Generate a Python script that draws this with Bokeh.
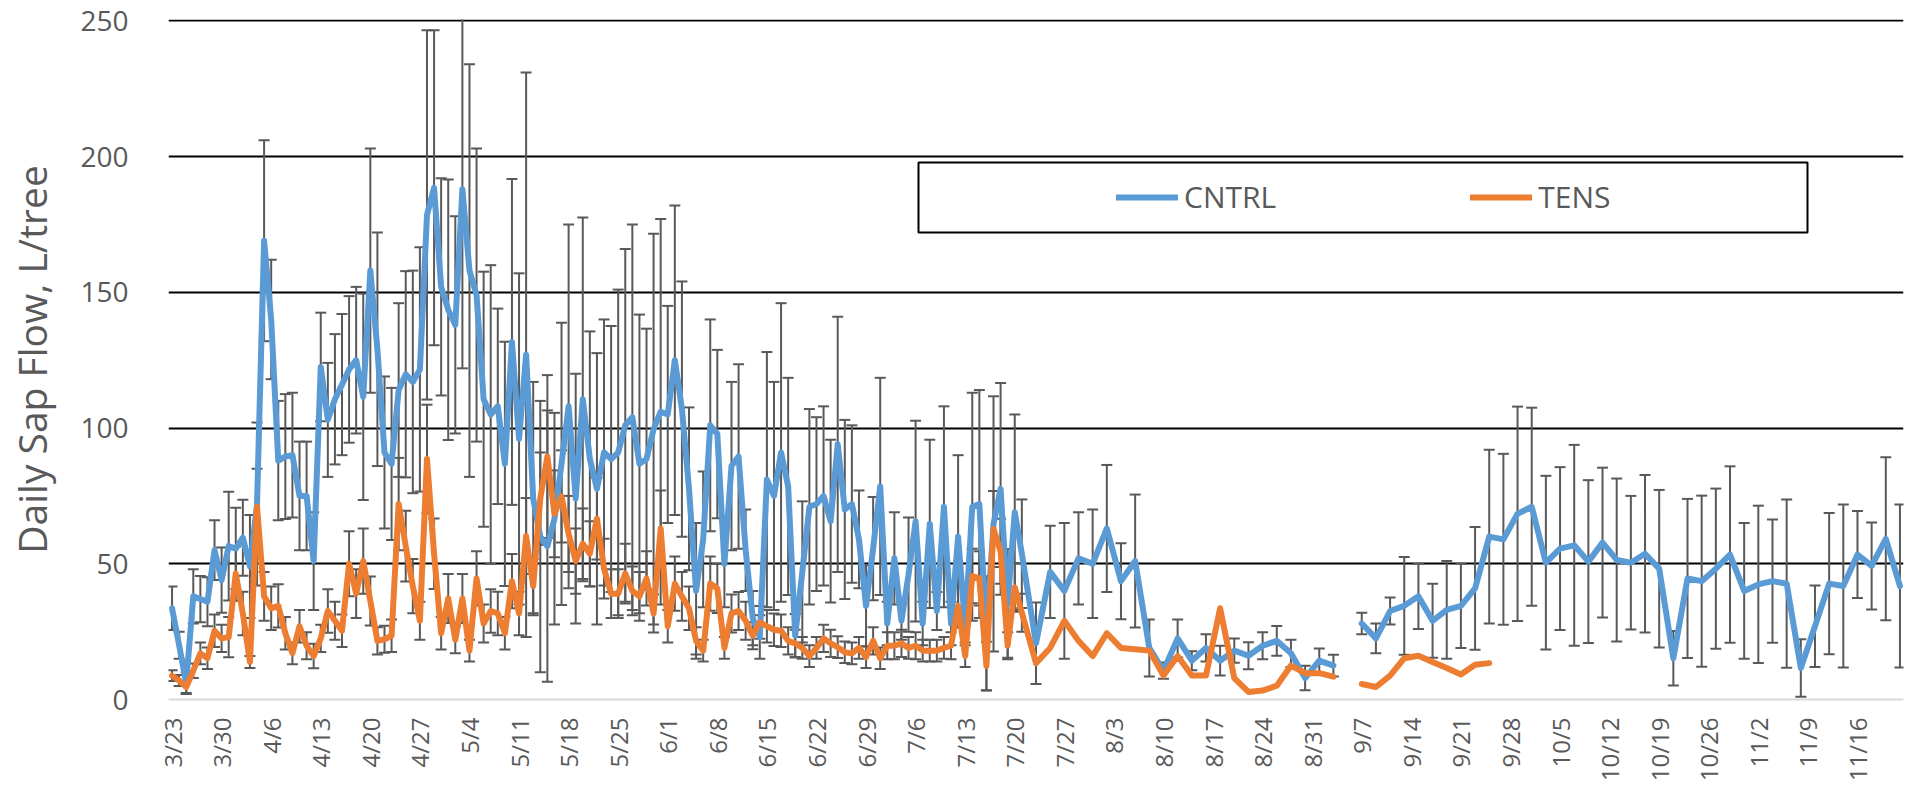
import numpy as np
import pandas as pd
from bokeh.plotting import figure
from bokeh.models import (ColumnDataSource, Range1d, FixedTicker, Legend,
                          LegendItem, BoxAnnotation)
from bokeh.embed import file_html
from bokeh.resources import INLINE

nan = float("nan")
YEAR = 2015

# ---- daily readings, 3/23 .. 7/21 ----
CNTRL_DAILY = [
    33.6, 20, 6, 38, 37, 36, 55, 44, 56.5, 55.6,
    59.6, 49, 72, 169, 140, 88, 89.5, 90, 75, 75,
    51, 122.5, 103, 110.6, 116, 121.6, 125, 111.5, 158, 129,
    91, 86.8, 114, 119.8, 117, 121.6, 178.5, 188.5, 152, 143.6,
    138, 188, 158, 149, 110.6, 105, 108, 86.8, 131.7, 96,
    127, 74, 60, 56.5, 66.6, 86.8, 108, 74, 110.6, 88.6,
    77.6, 91, 88.6, 91, 101, 104, 86.8, 88.6, 99.6, 106,
    105, 125, 107, 77.6, 40, 59, 101, 97.8, 50, 86,
    89.5, 55, 30, 23, 81, 75, 91, 78.5, 23.5, 47,
    71, 72, 75, 65.7, 94, 70, 72, 59, 34.5, 55.6,
    78.5, 28, 52, 29, 46, 65.7, 28, 64.7, 32.6, 71,
    28, 60, 27, 71, 72, 24.4, 64.7, 77.6, 35.4, 69,
    53.7]
TENS_DAILY = [
    8.8, 7, 4.6, 10.6, 17, 15.2, 25.3, 22.5, 23, 46.4,
    31.7, 13.8, 71, 38, 33.6, 34.5, 24.4, 17, 27, 19.8,
    16, 22.5, 32.6, 29, 25.3, 50, 39, 51, 36.3, 21.6,
    22.2, 23.5, 72, 56.5, 41.8, 29, 88.6, 53.7, 24.4, 37.2,
    22, 37.2, 18, 44.6, 28, 32.6, 31.7, 24.4, 43.6, 31.7,
    60.2, 41.8, 74, 89.5, 68.4, 74.8, 61, 51, 57.4, 53.7,
    66.6, 48.2, 39, 39, 46.4, 40, 38, 44.6, 31.7, 63,
    27, 42.7, 38, 33.6, 21.6, 18, 42.7, 40.9, 19, 31.7,
    32.6, 29, 23.5, 28.4, 27, 25.7, 25.3, 21.6, 20.7, 19,
    16, 19, 22.5, 20.7, 19.3, 17.4, 17, 19, 15.6, 21.6,
    15.2, 19.8, 19.8, 20.7, 19, 19.8, 18, 18, 18, 19,
    19.8, 34.5, 16, 45.5, 44.6, 12.3, 62.8, 54.6, 19.8, 41.3,
    32]
CNTRL_ERR_DAILY = [
    8, 5, 4, 10, 8.5, 9, 11, 12, 20, 15,
    14, 19, 30, 37, 22, 22, 23, 23, 20, 20,
    18, 20, 21, 24, 26, 27, 27, 38, 45, 43,
    28, 28, 32, 38, 41, 45, 68, 58, 40, 48,
    40, 66, 76, 54, 47, 55, 36, 45, 60, 61,
    104, 43, 50, 50, 39, 52, 67, 46, 67, 47,
    50, 49, 49, 60, 65, 71, 55, 48, 72, 71,
    40, 57, 47, 30, 25, 25, 39, 31, 16, 31,
    34, 15, 10, 8, 47, 42, 55, 40, 8, 26,
    36, 32, 33, 30, 47, 33, 29, 18, 15, 19,
    40, 8, 17, 7, 21, 37, 8, 31, 7, 37,
    8, 30, 6, 42, 42, 21, 47, 39, 20, 36,
    20]
TENS_ERR_DAILY = [
    2, 2, 2.2, 2.7, 4, 4, 6, 5, 7.4, 10,
    8, 2.2, 14, 9, 8, 8, 6, 4, 6, 5,
    4.5, 5, 8, 7, 6, 12, 9, 12, 9, 5,
    5, 6, 17, 13, 10, 7, 20, 13, 6, 9,
    5, 9, 4, 10, 7, 8, 8, 6, 10, 8,
    14, 10, 17, 30, 16, 17, 14, 12, 13, 12,
    15, 11, 9, 9, 11, 9, 9, 10, 7, 14,
    6, 10, 9, 8, 5, 4, 10, 9, 4, 7,
    7, 7, 5, 6, 6, 6, 6, 5, 5, 4,
    4, 4, 5, 5, 4, 4, 4, 4, 4, 5,
    4, 5, 5, 5, 4, 5, 4, 4, 4, 4,
    5, 8, 4, 10, 10, 9, 14, 12, 5, 9,
    7]

# ---- readings every second day, 7/23 .. 11/22 ----
CNTRL_2DAY = [
    20.7, 47, 40, 52, 50, 63, 43.6, 51, 19, 10.6,
    22.5, 14.3, 19, 14.3, 18, 16.1, 19.8, 21.6, 17, 7.9,
    14.3, 12.5, nan, 28, 22.5, 32.6, 34.5, 38, 29, 33,
    34.5, 40.9, 60, 59, 68.4, 71, 50.4, 55.6, 56.8, 50.8,
    57.8, 51.4, 50.4, 53.7, 48.2, 15.2, 44.6, 43.6, 48.2, 53.4,
    40, 42.4, 43.6, 42.7, 11.6, 27, 42.7, 41.8, 53.4, 49.2,
    59.2, 41.8]
TENS_2DAY = [
    13.4, 19, 29, 21.6, 16, 24.4, 19, 18.5, 18, 8.8,
    16, 8.8, 8.8, 33.6, 7.9, 2.8, 3.3, 5.1, 12.5, 9.7,
    9.7, 8.4, nan, 5.7, 4.6, 8.8, 15.2, 16.1, 13.8, 11.6,
    9.2, 12.8, 13.4, nan, nan, nan, nan, nan, nan, nan,
    nan, nan, nan, nan, nan, nan, nan, nan, nan, nan,
    nan, nan, nan, nan, nan, nan, nan, nan, nan, nan,
    nan, nan]
CNTRL_ERR_2DAY = [
    15, 17, 25, 17, 20, 23.4, 14, 24.5, 10.5, 3,
    7, 3.5, 5, 5.5, 4.5, 5, 5, 5.5, 5, 4.5,
    4.5, 4, nan, 4, 5.5, 5, 18, 12, 13.6, 18,
    15.5, 22.6, 32, 31.5, 39.5, 36.5, 32, 30, 37, 30,
    27.6, 30, 24.6, 29, 29, 10, 29.3, 31.5, 29.5, 32.5,
    25, 29, 22.7, 31, 10.6, 15, 26, 30, 16, 16,
    30, 30]

TICK_LABELS = ["3/23", "3/30", "4/6", "4/13", "4/20", "4/27", "5/4", "5/11",
               "5/18", "5/25", "6/1", "6/8", "6/15", "6/22", "6/29", "7/6",
               "7/13", "7/20", "7/27", "8/3", "8/10", "8/17", "8/24", "8/31",
               "9/7", "9/14", "9/21", "9/28", "10/5", "10/12", "10/19",
               "10/26", "11/2", "11/9", "11/16"]
Y_TICKS = [0, 50, 100, 150, 200, 250]
SERIES = ["CNTRL", "TENS"]
COLORS = ["#5B9BD5", "#ED7D31"]

# ---- build dates ----
d_daily = pd.date_range(f"{YEAR}-03-23", periods=len(CNTRL_DAILY), freq="D")
d_2day = pd.date_range(f"{YEAR}-07-23", periods=len(CNTRL_2DAY), freq="2D")
dates = d_daily.append(d_2day)

cntrl = np.array(CNTRL_DAILY + CNTRL_2DAY, dtype=float)
tens = np.array(TENS_DAILY + TENS_2DAY, dtype=float)
cntrl_err = np.array(CNTRL_ERR_DAILY + CNTRL_ERR_2DAY, dtype=float)
tens_err = np.array(TENS_ERR_DAILY + [nan] * len(TENS_2DAY), dtype=float)

src_lines = ColumnDataSource(dict(x=dates, c=cntrl, t=tens))


def err_source(vals, errs):
    ok = ~(np.isnan(vals) | np.isnan(errs))
    return ColumnDataSource(dict(x=dates[ok], hi=(vals + errs)[ok],
                                 lo=(vals - errs)[ok]))


x_start = pd.Timestamp(f"{YEAR}-03-23") - pd.Timedelta(hours=12)
x_end = dates[-1] + pd.Timedelta(hours=12)

p = figure(width=1908, height=784, x_axis_type="datetime",
           x_range=Range1d(x_start, x_end), y_range=Range1d(0, 250.5),
           output_backend="svg", toolbar_location=None,
           min_border_left=168, min_border_right=5, min_border_top=19,
           min_border_bottom=80)
p.outline_line_color = None
p.background_fill_color = "white"
p.border_fill_color = "white"

# grid
p.xgrid.grid_line_color = None
p.ygrid.ticker = FixedTicker(ticks=Y_TICKS[1:])
p.ygrid.grid_line_color = "black"
p.ygrid.grid_line_width = 2

FONT = "Open Sans"
GREY = "#595959"

# y axis
yax = p.yaxis[0]
yax.ticker = FixedTicker(ticks=Y_TICKS)
yax.axis_line_color = None
yax.major_tick_line_color = None
yax.minor_tick_line_color = None
yax.major_label_text_font = FONT
yax.major_label_text_font_size = "28px"
yax.major_label_text_color = GREY
yax.major_label_standoff = 34
yax.axis_label = "Daily Sap Flow, L/tree"
yax.axis_label_text_font = FONT
yax.axis_label_text_font_size = "39px"
yax.axis_label_text_font_style = "normal"
yax.axis_label_text_color = GREY
yax.axis_label_standoff = 19

# x axis
tick_ts = [pd.Timestamp(f"{YEAR}/{lab}") for lab in TICK_LABELS]
tick_ms = [float(t.value // 10**6) for t in tick_ts]
xax = p.xaxis[0]
xax.ticker = FixedTicker(ticks=tick_ms)
xax.major_label_overrides = {ms: lab for ms, lab in zip(tick_ms, TICK_LABELS)}
xax.major_label_orientation = np.pi / 2
xax.major_label_text_font = FONT
xax.major_label_text_font_size = "24px"
xax.major_label_text_color = GREY
xax.major_label_standoff = 12
xax.major_tick_line_color = None
xax.minor_tick_line_color = None
xax.axis_line_color = "#d9d9d9"
xax.axis_line_width = 2

# error bars
for vals, errs in ((tens, tens_err), (cntrl, cntrl_err)):
    es = err_source(vals, errs)
    p.segment(x0="x", y0="lo", x1="x", y1="hi", source=es,
              line_color=GREY, line_width=2)
    p.scatter(x="x", y="hi", source=es, marker="dash", size=11,
              line_color=GREY, line_width=2)
    p.scatter(x="x", y="lo", source=es, marker="dash", size=11,
              line_color=GREY, line_width=2)

r_c = p.line(x="x", y="c", source=src_lines, line_color=COLORS[0],
             line_width=6, line_join="round", line_cap="round")
r_t = p.line(x="x", y="t", source=src_lines, line_color=COLORS[1],
             line_width=6, line_join="round", line_cap="round")

legend = Legend(items=[LegendItem(label=SERIES[0], renderers=[r_c]),
                       LegendItem(label=SERIES[1], renderers=[r_t])],
                orientation="horizontal", location=(948, 482),
                border_line_alpha=0, background_fill_alpha=0,
                padding=0, margin=0, spacing=194,
                glyph_width=62, glyph_height=30, label_height=30,
                label_standoff=6, label_text_font=FONT,
                label_text_font_size="30px", label_text_color=GREY)
p.add_layout(legend)

frame_box = BoxAnnotation(left=918, right=1807, top=162, bottom=232,
                          left_units="canvas", right_units="canvas",
                          top_units="canvas", bottom_units="canvas",
                          fill_alpha=0, line_color="black", line_width=2,
                          line_alpha=1)
p.add_layout(frame_box)

open("out.html", "w").write(file_html(p, INLINE))
